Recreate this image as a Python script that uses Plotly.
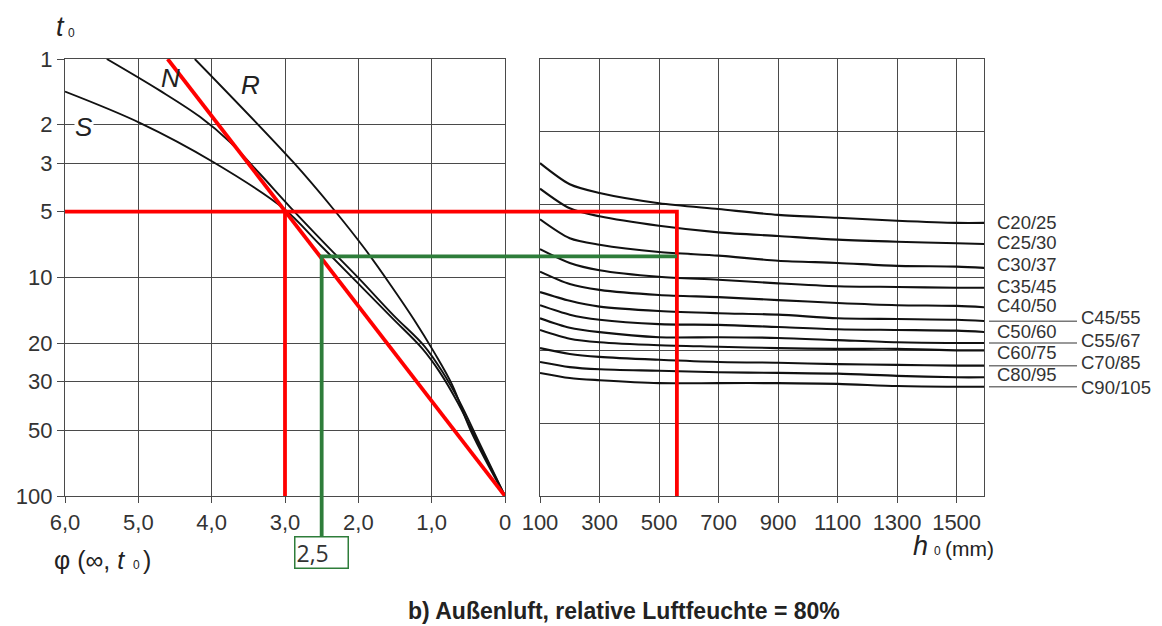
import math
import plotly.graph_objects as go

W, H = 1162, 626
ML, MR, MT, MB = 65, 178, 59, 130
PW = W - ML - MR
PH = H - MT - MB


def px(x):
    return (x - ML) / PW


def py(y):
    return 1 - (y - MT) / PH


# ---------------- data: left panel (phi vs t0) ----------------
phi_ticks = [6, 5, 4, 3, 2, 1, 0]
phi_ticktext = ["6,0", "5,0", "4,0", "3,0", "2,0", "1,0", "0"]
t0_ticks = [1, 2, 3, 5, 10, 20, 30, 50, 100]

S_phi = [6.0, 4.98, 3.98, 3.03, 2.52, 2.02, 1.54, 1.13, 0.89, 0.64, 0.34, 0.0]
S_t0 = [1.41, 1.96, 2.96, 4.8, 7.1, 10.5, 15.3, 21.1, 27.1, 37.6, 59.5, 100]
N_phi = [5.43, 4.70, 4.16, 3.75, 3.34, 2.93, 2.45, 1.98, 1.52, 1.10, 0.86, 0.62, 0.33, 0.0]
N_t0 = [1.0, 1.40, 1.84, 2.40, 3.36, 4.76, 7.03, 10.2, 14.9, 20.6, 26.8, 37.0, 59.0, 100]
R_phi = [4.23, 2.89, 2.33, 1.92, 1.57, 1.24, 0.97, 0.72, 0.46, 0.0]
R_t0 = [1.0, 2.96, 4.91, 7.33, 10.7, 15.6, 21.9, 31.0, 50.9, 100]

# ---------------- data: right panel (h0 vs class curves) ----------------
h0_ticks = [100, 300, 500, 700, 900, 1100, 1300, 1500]
h0 = [100, 200, 300, 500, 700, 900, 1100, 1300, 1500, 1600]
classes = ["C20/25", "C25/30", "C30/37", "C35/45", "C40/50", "C45/55",
           "C50/60", "C55/67", "C60/75", "C70/85", "C80/95", "C90/105"]
c20_25 = [4.57, 4.28, 4.16, 4.02, 3.94, 3.86, 3.82, 3.78, 3.75, 3.75]
c25_30 = [4.22, 3.95, 3.84, 3.71, 3.62, 3.57, 3.52, 3.49, 3.47, 3.46]
c30_37 = [3.80, 3.54, 3.45, 3.35, 3.30, 3.23, 3.20, 3.16, 3.15, 3.13]
c35_45 = [3.39, 3.20, 3.10, 3.01, 2.97, 2.92, 2.88, 2.87, 2.86, 2.86]
c40_50 = [3.08, 2.91, 2.83, 2.76, 2.73, 2.69, 2.65, 2.62, 2.61, 2.59]
c45_55 = [2.80, 2.68, 2.60, 2.54, 2.51, 2.49, 2.44, 2.43, 2.42, 2.40]
c50_60 = [2.62, 2.49, 2.42, 2.36, 2.35, 2.32, 2.29, 2.28, 2.27, 2.25]
c55_67 = [2.44, 2.31, 2.25, 2.18, 2.18, 2.17, 2.14, 2.11, 2.10, 2.10]
c60_75 = [2.28, 2.16, 2.11, 2.07, 2.05, 2.03, 2.02, 2.02, 2.00, 2.00]
c70_85 = [2.03, 1.95, 1.91, 1.87, 1.84, 1.83, 1.81, 1.80, 1.79, 1.79]
c80_95 = [1.84, 1.77, 1.74, 1.72, 1.70, 1.69, 1.68, 1.65, 1.63, 1.63]
c90_105 = [1.69, 1.62, 1.59, 1.55, 1.55, 1.55, 1.54, 1.51, 1.50, 1.50]
curves = [c20_25, c25_30, c30_37, c35_45, c40_50, c45_55,
          c50_60, c55_67, c60_75, c70_85, c80_95, c90_105]

# ---------------- data: reading example ----------------
diag_phi = [0.0, 4.6]
diag_t0 = [100, 1]
t0_red = 5
phi_red = 3.0
h0_read = 560
t0_green = 8.0
phi_green = 2.5

Y2_MAX = 6.0


def t0_to_y2(t):
    # convert a t0 level (log axis 1..100) to the right-panel linear axis 0..6
    return Y2_MAX * (1 - math.log10(t) / 2)


RED = "#ff0000"
GREEN = "#2e7d3a"
GRID = "#4a4a4a"
FONT = "Liberation Sans, Arial, sans-serif"

fig = go.Figure()

for xs, ys in [(S_phi, S_t0), (N_phi, N_t0), (R_phi, R_t0)]:
    fig.add_trace(go.Scatter(x=xs, y=ys, mode="lines", xaxis="x", yaxis="y",
                             line=dict(color="#111", width=1.9, shape="spline", smoothing=1.0),
                             showlegend=False, hoverinfo="skip"))

for name, ys in zip(classes, curves):
    fig.add_trace(go.Scatter(x=h0, y=ys, mode="lines", xaxis="x2", yaxis="y2", name=name,
                             line=dict(color="#111", width=2.1, shape="spline", smoothing=0.8),
                             showlegend=False))

# red construction
fig.add_trace(go.Scatter(x=diag_phi, y=diag_t0, mode="lines", xaxis="x", yaxis="y",
                         line=dict(color=RED, width=3.8), showlegend=False))
fig.add_trace(go.Scatter(x=[6, 0], y=[t0_red, t0_red], mode="lines", xaxis="x", yaxis="y",
                         line=dict(color=RED, width=3.8), showlegend=False))
fig.add_trace(go.Scatter(x=[phi_red, phi_red], y=[t0_red, 100], mode="lines", xaxis="x", yaxis="y",
                         line=dict(color=RED, width=3.8), showlegend=False))
yr = t0_to_y2(t0_red)
fig.add_trace(go.Scatter(x=[100, h0_read, h0_read], y=[yr, yr, 0], mode="lines",
                         xaxis="x2", yaxis="y2",
                         line=dict(color=RED, width=3.8), showlegend=False))
# green construction
yg = t0_to_y2(t0_green)
fig.add_trace(go.Scatter(x=[0, phi_green, phi_green], y=[t0_green, t0_green, 100], mode="lines",
                         xaxis="x", yaxis="y",
                         line=dict(color=GREEN, width=3.8), showlegend=False))
fig.add_trace(go.Scatter(x=[100, h0_read], y=[yg, yg], mode="lines",
                         xaxis="x2", yaxis="y2",
                         line=dict(color=GREEN, width=3.8), showlegend=False))

LDOM = [0, (505 - ML) / PW]
RDOM = [(540 - ML) / PW, 1]

shapes = []
# connectors across the gap between the panels
for lvl, col in [(yr, RED), (yg, GREEN)]:
    shapes.append(dict(type="line", xref="paper", yref="y2", x0=LDOM[1], x1=RDOM[0],
                       y0=lvl, y1=lvl, line=dict(color=col, width=3.8), layer="above"))
# leader lines for the right column of labels
for ys in [c45_55, c55_67, c70_85, c90_105]:
    shapes.append(dict(type="line", xref="paper", yref="y2", x0=px(989), x1=px(1077),
                       y0=ys[-1], y1=ys[-1], line=dict(color="#777", width=1.5)))

ann = []


def label(text, x, y, size, xanchor="center", color="#222", family=FONT, **kw):
    ann.append(dict(text=text, x=px(x), y=py(y), xref="paper", yref="paper", showarrow=False,
                    xanchor=xanchor, yanchor="middle",
                    font=dict(size=size, color=color, family=family), **kw))


# class labels
left_col = {"C20/25": 222, "C25/30": 242, "C30/37": 264, "C35/45": 286, "C40/50": 305,
            "C50/60": 331, "C60/75": 352, "C80/95": 374}
right_col = {"C45/55": 317, "C55/67": 340, "C70/85": 362, "C90/105": 387}
for k, v in left_col.items():
    label(k, 995, v, 18.5, xanchor="left", color="#333")
for k, v in right_col.items():
    label(k, 1079, v, 18.5, xanchor="left", color="#333")

# S N R labels
label("<i>S</i>", 84, 127, 26, bgcolor="white", borderpad=0)
label("<i>N</i>", 170, 78, 26)
label("<i>R</i>", 250, 85, 26)

# axis titles
label("<i>t</i>", 60, 27, 27)
label("0", 71, 33, 12)
label("φ (∞, <i>t</i>", 52, 560, 25, xanchor="left")
label("0", 136, 565, 12)
label(")", 141, 560, 25, xanchor="left")
label("<i>h</i>", 920, 546, 27)
label("0", 937, 551, 12)
label("(mm)", 943, 548, 21, xanchor="left")

# reading box 2,5 with green leader
ann.append(dict(text="2,5", x=phi_green, xref="x", y=0, yref="paper", showarrow=True,
                arrowhead=0, arrowwidth=3.8, arrowcolor=GREEN, ax=0, ay=56, standoff=0,
                bordercolor=GREEN, borderwidth=1.5, borderpad=1, bgcolor="white",
                width=50, height=28, align="left",
                font=dict(size=23, color="#333", family="Open Sans, sans-serif")))

# bottom title
label("<b>b) Außenluft, relative Luftfeuchte = 80%</b>", 624, 611, 23)

axis_common = dict(showgrid=True, gridcolor=GRID, gridwidth=1.3, zeroline=False,
                   showline=True, mirror=True, linecolor=GRID, linewidth=1.3,
                   tickfont=dict(size=22, color="#333", family=FONT))

fig.update_layout(
    width=W, height=H,
    margin=dict(l=ML, r=MR, t=MT, b=MB),
    paper_bgcolor="white", plot_bgcolor="white",
    showlegend=False,
    xaxis=dict(domain=LDOM, range=[6, 0], tickvals=phi_ticks, ticktext=phi_ticktext,
               ticks="outside", ticklen=6, tickcolor=GRID, anchor="y", **axis_common),
    yaxis=dict(domain=[0, 1], type="log", range=[2, 0], tickvals=t0_ticks,
               ticktext=[str(v) for v in t0_ticks], ticks="outside", ticklen=7,
               tickcolor=GRID, anchor="x", **axis_common),
    xaxis2=dict(domain=RDOM, range=[100, 1592], tickvals=h0_ticks,
                ticks="outside", ticklen=6, tickcolor=GRID, anchor="y2", **axis_common),
    yaxis2=dict(domain=[0, 1], range=[0, Y2_MAX], dtick=1, showticklabels=False,
                anchor="x2", **axis_common),
    shapes=shapes,
    annotations=ann,
)

fig.write_html("out.html")
